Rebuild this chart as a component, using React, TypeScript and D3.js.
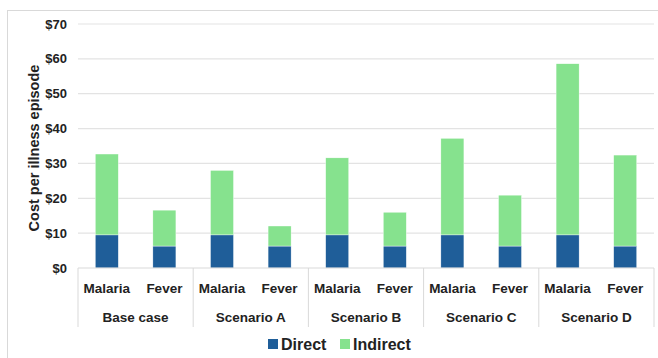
import React from "react";
import * as d3 from "d3";

const scenarios = ["Base case", "Scenario A", "Scenario B", "Scenario C", "Scenario D"];
const illnesses = ["Malaria", "Fever"];
const directValues = [9.5, 6.3, 9.5, 6.3, 9.5, 6.3, 9.5, 6.3, 9.5, 6.3];
const indirectValues = [23.2, 10.3, 18.5, 5.75, 22.1, 9.7, 27.7, 14.6, 49.1, 26.1];
const yTicks = [0, 10, 20, 30, 40, 50, 60, 70];
const seriesNames = ["Direct", "Indirect"];
const colors = ["#1F5E99", "#86E28E"];

const W = 658, H = 358;
const left = 78, right = 654, top = 24, bottom = 268;
const font = "'Liberation Sans', Arial, sans-serif";

export default function App() {
  const rows = scenarios.flatMap((s, i) =>
    illnesses.map((ill, j) => ({
      key: `${s}|${ill}`,
      scenario: s,
      illness: ill,
      direct: directValues[i * 2 + j],
      indirect: indirectValues[i * 2 + j],
    }))
  );
  const x = d3.scaleBand().domain(rows.map(r => r.key)).range([left, right]).paddingInner(0.6).paddingOuter(0.3);
  const xg = d3.scaleBand().domain(scenarios).range([left, right]);
  const y = d3.scaleLinear().domain([0, 70]).range([bottom, top]);
  const stack = d3.stack<any>().keys(["direct", "indirect"])(rows);
  const fmt = (v: number) => `$${v}`;

  return (
    <svg width={W} height={H} style={{ position: "fixed", left: 0, top: 0 }} fontFamily={font}>
      <rect x={0} y={0} width={W} height={H} fill="#fff" />
      <rect x={7.5} y={10.5} width={700} height={400} fill="none" stroke="#D9D9D9" />
      {yTicks.map(t => (
        <g key={t}>
          {t > 0 && <line x1={left} x2={right} y1={y(t)} y2={y(t)} stroke="#E3E3E3" strokeWidth={1.2} />}
          <text x={67} y={y(t)} dy="0.35em" textAnchor="end" fontSize={13} fontWeight="bold" fill="#222">{fmt(t)}</text>
        </g>
      ))}
      {stack.map((layer, li) => (
        <g key={li} fill={colors[li]}>
          {layer.map((d, i) => (
            <rect key={i} x={x(rows[i].key)} width={x.bandwidth()} y={y(d[1])} height={y(d[0]) - y(d[1])} stroke="#fff" strokeWidth={0.4} />
          ))}
        </g>
      ))}
      <line x1={left} x2={right} y1={bottom} y2={bottom} stroke="#D9D9D9" />
      {scenarios.map((s, i) => (
        <line key={s} x1={xg(s)!} x2={xg(s)!} y1={bottom} y2={327} stroke="#D9D9D9" />
      ))}
      <line x1={right} x2={right} y1={bottom} y2={327} stroke="#D9D9D9" />
      {rows.map(r => (
        <text key={r.key} x={x(r.key)! + x.bandwidth() / 2} y={288} dy="0.35em" textAnchor="middle" fontSize={13.5} fontWeight="bold" fill="#222">{r.illness}</text>
      ))}
      {scenarios.map(s => (
        <text key={s} x={xg(s)! + xg.bandwidth() / 2} y={317} dy="0.35em" textAnchor="middle" fontSize={13.5} fontWeight="bold" fill="#222">{s}</text>
      ))}
      <text transform={`translate(34,${(top + bottom) / 2 + 2}) rotate(-90)`} textAnchor="middle" dy="0.35em" fontSize={14.5} fontWeight="bold" fill="#222">Cost per illness episode</text>
      {seriesNames.map((n, i) => {
        const lx = [268, 340][i];
        return (
          <g key={n}>
            <rect x={lx} y={339} width={10} height={10} fill={colors[i]} />
            <text x={lx + 13} y={344} dy="0.35em" fontSize={16} fontWeight="bold" fill="#222">{n}</text>
          </g>
        );
      })}
    </svg>
  );
}
